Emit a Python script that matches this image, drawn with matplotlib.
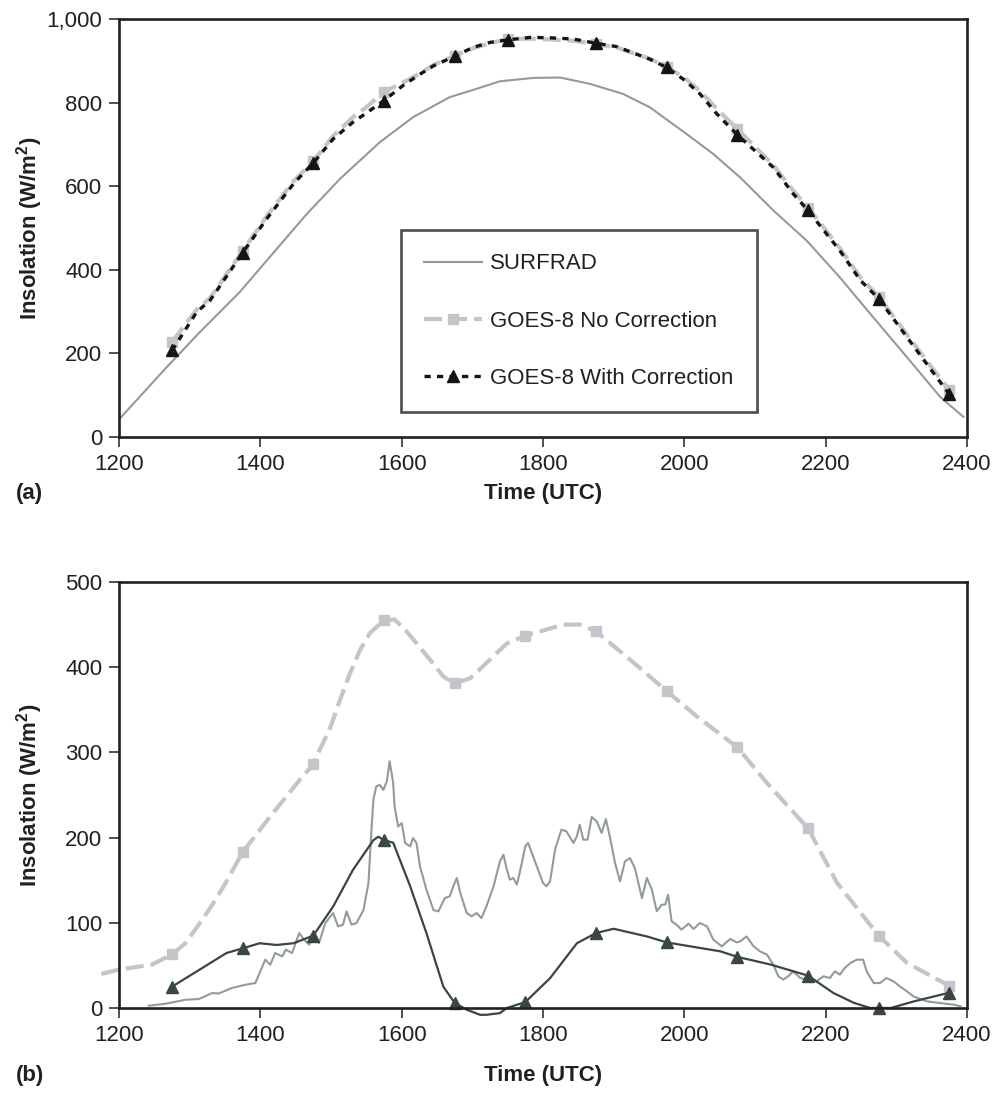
import matplotlib
matplotlib.use('Agg')
import matplotlib.pyplot as plt
from matplotlib.ticker import FuncFormatter, FixedLocator

plt.rcParams['font.family'] = ['Liberation Sans', 'DejaVu Sans']
plt.rcParams['mathtext.fontset'] = 'custom'
plt.rcParams['mathtext.bf'] = 'Liberation Sans:bold'
plt.rcParams['mathtext.rm'] = 'Liberation Sans'
plt.rcParams['lines.scale_dashes'] = False

# ---------------- Data: panel (a) ----------------
a_surf_t = [1200, 1268, 1315, 1371, 1409, 1466, 1513, 1569, 1616, 1668, 1706, 1739, 1786,
            1824, 1866, 1913, 1951, 2003, 2041, 2079, 2126, 2173, 2220, 2267, 2315, 2362, 2395]
a_surf_v = [42, 168, 252, 347, 422, 534, 618, 705, 765, 813, 833, 851, 859,
            860, 845, 821, 789, 725, 677, 621, 542, 470, 382, 287, 191, 96, 48]

a_goes_t = [1275, 1310, 1329, 1375, 1409, 1447, 1475, 1503, 1531, 1550, 1575, 1602, 1626, 1645,
            1675, 1701, 1725, 1750, 1782, 1810, 1843, 1875, 1904, 1951, 1975, 2001, 2022,
            2046, 2075, 2126, 2154, 2175, 2220, 2249, 2275, 2315, 2343, 2375]
a_nocorr_v = [227, 305, 333, 445, 528, 612, 660, 720, 765, 789, 826, 848, 870, 890,
              912, 930, 942, 952, 953, 951, 948, 940, 932, 905, 886, 858, 828,
              785, 737, 650, 590, 549, 452, 382, 336, 245, 182, 112]
a_corr_v = [207, 299, 327, 441, 522, 606, 656, 713, 753, 775, 805, 841, 868, 888,
            911, 932, 944, 950, 956, 955, 952, 942, 934, 904, 884, 853, 821,
            773, 723, 645, 582, 542, 446, 375, 331, 239, 175, 102]
a_marker_t = [1275, 1375, 1475, 1575, 1675, 1750, 1875, 1975, 2075, 2175, 2275, 2375]

# ---------------- Data: panel (b) ----------------
b_surf_t = [1242, 1266, 1294, 1313, 1332, 1341, 1360, 1379, 1393, 1407, 1414, 1421, 1431, 1436,
            1445, 1455, 1462, 1469, 1478, 1483, 1492, 1503, 1510, 1517, 1522, 1529, 1536, 1546,
            1553, 1557, 1560, 1564, 1569, 1574, 1579, 1583, 1588, 1590, 1595, 1600, 1605, 1612,
            1616, 1621, 1626, 1635, 1645, 1652, 1661, 1668, 1673, 1678, 1683, 1692, 1699, 1706,
            1713, 1720, 1730, 1739, 1744, 1749, 1753, 1758, 1763, 1767, 1775, 1779, 1786, 1793,
            1800, 1805, 1810, 1817, 1826, 1833, 1843, 1848, 1852, 1857, 1863, 1869, 1876, 1883,
            1889, 1895, 1902, 1909, 1916, 1923, 1930, 1940, 1947, 1954, 1961, 1968, 1973, 1977,
            1982, 1989, 1996, 2006, 2013, 2022, 2032, 2041, 2053, 2065, 2074, 2079, 2088, 2098,
            2107, 2117, 2126, 2133, 2140, 2147, 2154, 2164, 2173, 2187, 2197, 2206, 2213, 2220,
            2227, 2235, 2244, 2253, 2258, 2268, 2277, 2286, 2296, 2305, 2315, 2324, 2343, 2362,
            2381, 2391]
b_surf_v = [2.7, 5, 9.7, 10.5, 17.6, 17, 23.5, 27.3, 29.3, 56.7, 50.8, 64.5, 60.6, 68.4,
            64.5, 88, 80, 74.3, 86, 76.3, 99.7, 111.5, 95.8, 97.8, 113.4, 97.8, 99.7, 115,
            146.7, 205.4, 244.5, 260, 262, 256, 266, 289.5, 264, 236.6, 213, 217, 193.6, 189.7,
            199.5, 193.6, 166, 138.9, 115, 113.4, 129, 131, 142.8, 152.6, 135, 111.5, 107.6, 111.5,
            105.6, 119.3, 142.8, 172, 180, 162, 150.6, 152.6, 144.8, 158.5, 189.8, 193.7, 178, 162.4,
            146.7, 142.8, 148.7, 185.8, 209.3, 207.4, 193.7, 201.5, 215.2, 197.6, 197.6, 224.2, 219, 205.4,
            221.8, 199.5, 170, 148.7, 172, 176, 164.3, 129, 152.6, 139, 113.5, 121.3, 121.3, 133,
            101.7, 97.8, 92, 99, 92.7, 99.8, 95.9, 80.2, 72.4, 81, 77, 78.2, 84, 72.4,
            66.5, 62.6, 50.8, 37.2, 33.3, 37.2, 43, 35.2, 33.3, 31.3, 37.2, 35.2, 43, 39.1,
            46.9, 52.8, 56.7, 56.7, 43, 29.3, 29.3, 35.2, 31.3, 25.4, 19.5, 13.7, 7.8, 5.9,
            3.9, 2]

b_nocorr_t = [1175, 1200, 1247, 1275, 1294, 1313, 1332, 1351, 1375, 1418, 1456, 1475, 1484, 1498,
              1513, 1527, 1541, 1555, 1575, 1590, 1607, 1621, 1640, 1659, 1675, 1697, 1720, 1749,
              1775, 1829, 1852, 1875, 1923, 1975, 2018, 2075, 2117, 2175, 2216, 2275, 2315, 2375]
b_nocorr_v = [40, 45, 51, 63, 76, 98, 121, 147, 183, 229, 268, 286, 303, 327,
              362, 393, 420, 440, 455, 456, 442, 428, 409, 389, 381, 387, 405, 428,
              437, 450, 450, 442, 409, 372, 342, 306, 264, 211, 147, 85, 53, 26]

b_corr_t = [1275, 1352, 1375, 1399, 1423, 1447, 1475, 1503, 1531, 1560, 1567, 1575, 1588, 1612,
            1635, 1659, 1675, 1692, 1711, 1720, 1739, 1749, 1775, 1810, 1848, 1875, 1900, 1947,
            1975, 2051, 2075, 2122, 2175, 2211, 2240, 2263, 2275, 2292, 2325, 2375]
b_corr_v = [25, 64.5, 70, 76, 74, 76, 85, 119, 162, 197, 201, 197, 194, 143,
            88, 25, 6, -2, -8, -8, -6, 0, 7, 35, 76, 88, 93, 84,
            77, 66.5, 60, 51, 38, 17.6, 6, 0, 0, 0, 7.8, 18]
b_marker_t = [1275, 1375, 1475, 1575, 1675, 1775, 1875, 1975, 2075, 2175, 2275, 2375]

x_ticks = [1200, 1400, 1600, 1800, 2000, 2200, 2400]
a_y_ticks = [0, 200, 400, 600, 800, 1000]
b_y_ticks = [0, 100, 200, 300, 400, 500]
labels = ['SURFRAD', 'GOES-8 No Correction', 'GOES-8 With Correction']

# ---------------- Styles ----------------
C_SURF = '#939a9e'
C_NOCORR = '#c3c5ca'
C_BLACK = '#141414'
C_SLATE = '#3a4545'
C_AX = '#231f20'
FS = 16


def marks(times, sel):
    return [i for i, t in enumerate(times) if t in sel]


def style_axes(ax, yticks, ymax, yfmt):
    ax.set_xlim(1200, 2400)
    ax.set_ylim(0, ymax)
    ax.xaxis.set_major_locator(FixedLocator(x_ticks))
    ax.yaxis.set_major_locator(FixedLocator(yticks))
    ax.yaxis.set_major_formatter(FuncFormatter(yfmt))
    for s in ax.spines.values():
        s.set_linewidth(1.9)
        s.set_color(C_AX)
    ax.tick_params(direction='out', length=7, width=1.1, colors=C_AX,
                   labelsize=FS, pad=5)
    ax.set_xlabel('Time (UTC)', fontsize=FS, fontweight='bold', color=C_AX)
    ax.set_ylabel(r'Insolation (W/m$^\mathbf{2}$)', fontsize=FS, fontweight='bold', color=C_AX)


fig = plt.figure(figsize=(9.95, 11.02), dpi=100)
W, H = 995.0, 1102.0
ax_a = fig.add_axes([119 / W, 1 - 437 / H, 848 / W, 418 / H])
ax_b = fig.add_axes([119 / W, 1 - 1008 / H, 848 / W, 426 / H])

# ---- panel (a)
ax_a.plot(a_surf_t, a_surf_v, color=C_SURF, lw=1.5, label=labels[0])
ax_a.plot(a_goes_t, a_nocorr_v, color=C_NOCORR, lw=3.0, dashes=(13, 5),
          marker='s', markersize=7, markevery=marks(a_goes_t, a_marker_t),
          markerfacecolor=C_NOCORR, markeredgecolor=C_NOCORR, label=labels[1])
ax_a.plot(a_goes_t, a_corr_v, color=C_BLACK, lw=2.4, dashes=(4.5, 4.5),
          marker='^', markersize=9, markevery=marks(a_goes_t, a_marker_t),
          markerfacecolor=C_BLACK, markeredgecolor=C_BLACK, label=labels[2])
style_axes(ax_a, a_y_ticks, 1000, lambda v, p: f'{int(v):,}')
leg = ax_a.legend(loc='upper left', bbox_to_anchor=((401 - 119) / 848, (437 - 230) / 418),
                  borderaxespad=0, frameon=True, fancybox=False, edgecolor=C_AX,
                  fontsize=FS, numpoints=1, handlelength=2.6, handletextpad=0.35,
                  labelspacing=1.63, borderpad=1.05)
leg.get_frame().set_linewidth(1.9)
for t in leg.get_texts():
    t.set_color(C_AX)

# ---- panel (b)
ax_b.plot(b_nocorr_t, b_nocorr_v, color=C_NOCORR, lw=3.0, dashes=(13, 5),
          marker='s', markersize=7, markevery=marks(b_nocorr_t, b_marker_t),
          markerfacecolor=C_NOCORR, markeredgecolor=C_NOCORR, clip_on=False)
ax_b.plot(b_surf_t, b_surf_v, color=C_SURF, lw=1.5)
ax_b.plot(b_corr_t, b_corr_v, color=C_SLATE, lw=1.6,
          marker='^', markersize=8.5, markevery=marks(b_corr_t, b_marker_t),
          markerfacecolor=C_SLATE, markeredgecolor=C_SLATE, clip_on=False)
style_axes(ax_b, b_y_ticks, 500, lambda v, p: f'{int(v)}')

# label positions
for ax in (ax_a, ax_b):
    ax.yaxis.label.set_va('center')
    ax.yaxis.set_label_coords((30 - 119) / 848, 0.5)
    ax.xaxis.label.set_va('center')
ax_a.xaxis.set_label_coords(0.5, (437 - 493) / 418)
ax_b.xaxis.set_label_coords(0.5, (1008 - 1075) / 426)

fig.text(16 / W, 1 - 493 / H, '(a)', fontsize=FS, fontweight='bold', color=C_AX,
         ha='left', va='center')
fig.text(16 / W, 1 - 1075 / H, '(b)', fontsize=FS, fontweight='bold', color=C_AX,
         ha='left', va='center')

fig.savefig('out.png', dpi=100)
